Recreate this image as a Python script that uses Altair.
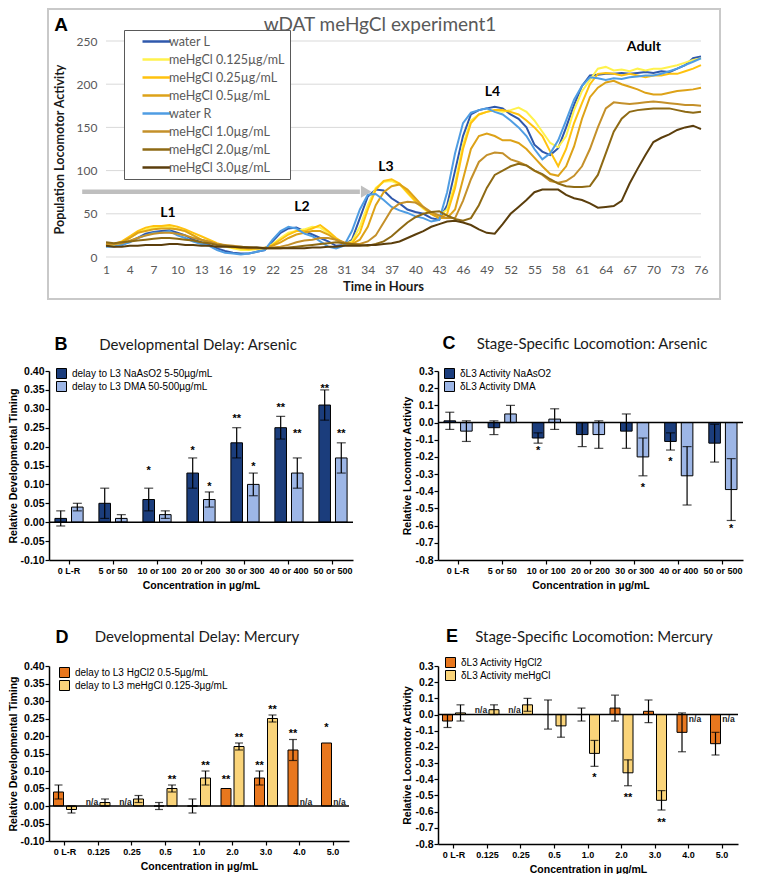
import altair as alt
import pandas as pd

# ---------------- Panel A data ----------------
hours = list(range(1, 77))
hour_ticks = list(range(1, 77, 3))
activity_ticks = [0, 50, 100, 150, 200, 250]

a_series = ["water L", "meHgCl 0.125µg/mL", "meHgCl 0.25µg/mL", "meHgCl 0.5µg/mL",
            "water R", "meHgCl 1.0µg/mL", "meHgCl 2.0µg/mL", "meHgCl 3.0µg/mL"]
a_colors = ["#2F58AC", "#FFF24D", "#FFC20E", "#DDA218", "#4F9DE3", "#C4902A", "#8E6A14", "#5B3E0C"]

water_L = [14, 13, 14, 18, 22, 27, 29, 30, 31, 28,
           25, 20, 17, 14, 10, 7, 5, 4, 4, 6,
           8, 18, 28, 33, 34, 30, 26, 22, 18, 13,
           14, 20, 45, 70, 78, 77, 68, 62, 55, 52,
           50, 45, 43, 60, 100, 140, 165, 170, 172, 174,
           172, 165, 160, 150, 130, 122, 118, 126, 150, 176,
           198, 210, 211, 212, 212, 213, 212, 213, 214, 213,
           215, 214, 218, 222, 230, 232]
me_0125 = [14, 14, 16, 22, 28, 32, 34, 35, 35, 32,
           30, 25, 20, 17, 15, 12, 10, 8, 8, 9,
           10, 15, 22, 28, 30, 32, 35, 34, 28, 20,
           15, 18, 35, 60, 80, 87, 88, 84, 74, 64,
           56, 50, 48, 55, 85, 130, 158, 165, 168, 170,
           168, 170, 173, 168, 158, 145, 132, 127, 140, 170,
           192, 205, 218, 220, 216, 217, 215, 218, 216, 218,
           218, 220, 222, 225, 228, 230]
me_025 = [14, 15, 18, 24, 30, 34, 36, 36, 37, 35,
          32, 28, 24, 20, 16, 13, 11, 10, 9, 10,
          10, 14, 20, 26, 30, 30, 33, 37, 30, 22,
          16, 16, 28, 55, 78, 88, 90, 85, 75, 65,
          57, 50, 45, 50, 80, 125, 155, 165, 168, 170,
          170, 168, 165, 158, 150, 140, 122, 105, 125, 155,
          178, 200, 212, 213, 212, 210, 212, 210, 208, 210,
          210, 212, 212, 215, 218, 222]
me_05 = [14, 15, 17, 22, 28, 30, 32, 33, 33, 32,
         30, 25, 20, 17, 15, 13, 12, 11, 10, 10,
         11, 13, 17, 22, 26, 28, 30, 30, 26, 20,
         15, 15, 20, 35, 60, 75, 82, 84, 78, 68,
         58, 50, 45, 45, 55, 90, 125, 140, 143, 140,
         135, 135, 132, 125, 115, 105, 96, 94, 105, 128,
         160, 185, 196, 202, 204, 200, 197, 194, 190, 188,
         188, 190, 192, 193, 194, 196]
water_R = [12, 12, 14, 17, 22, 25, 28, 28, 30, 25,
           22, 18, 15, 13, 8, 5, 4, 3, 4, 6,
           8, 20, 30, 35, 33, 27, 24, 18, 12, 10,
           13, 30, 55, 72, 73, 66, 58, 54, 51, 47,
           45, 41, 43, 75, 120, 155, 167, 170, 172, 168,
           165, 158, 150, 140, 125, 113, 120, 135, 158, 182,
           198, 208, 207, 205, 207, 206, 208, 209, 210, 210,
           212, 215, 218, 222, 226, 230]
me_10 = [16, 15, 16, 19, 22, 25, 27, 28, 28, 27,
         25, 22, 20, 18, 15, 14, 13, 12, 11, 10,
         10, 11, 12, 14, 17, 19, 20, 22, 22, 20,
         17, 15, 15, 18, 25, 40, 55, 62, 64, 63,
         58, 52, 48, 45, 45, 65, 90, 110, 118, 121,
         120, 113, 110, 106, 100, 95, 88, 86, 88, 94,
         105, 125, 150, 172, 179, 178, 177, 178, 179, 180,
         179, 178, 177, 176, 176, 175]
me_20 = [17, 16, 17, 18, 19, 20, 21, 22, 22, 21,
         20, 19, 17, 16, 14, 13, 12, 12, 11, 11,
         10, 10, 10, 11, 12, 13, 14, 15, 16, 17,
         16, 15, 14, 13, 15, 18, 24, 32, 40, 46,
         50, 52, 53, 48, 44, 42, 45, 60, 80, 95,
         100, 105, 108, 106, 100, 96, 90, 85, 82, 81,
         81, 82, 95, 120, 145, 160, 168, 170, 171, 172,
         172, 172, 170, 168, 167, 168]
me_30 = [13, 12, 12, 13, 13, 14, 14, 14, 15, 15,
         14, 14, 13, 13, 12, 12, 12, 11, 11, 11,
         10, 10, 10, 10, 10, 10, 11, 11, 12, 12,
         13, 13, 13, 14, 14, 15, 16, 18, 22, 26,
         30, 35, 38, 41, 42, 40, 37, 32, 28, 27,
         38, 50, 58, 66, 75, 78, 78, 78, 72, 68,
         66, 62, 57, 58, 59, 65, 85, 102, 118, 133,
         138, 142, 147, 150, 152, 148]
a_values = [water_L, me_0125, me_025, me_05, water_R, me_10, me_20, me_30]

stage_text = ["L1", "L2", "L3", "L4", "Adult"]
stage_hour = [8.8, 25.7, 36.3, 49.7, 68.8]
stage_level = [51, 58, 104, 191, 243]

arrow_hours = [-2.0, 33.0]
arrow_head_hour = 33.8
arrow_level = 75.6

# ---------------- Panels B-E data ----------------
as_cats = ["0 L-R", "5 or 50", "10 or 100", "20 or 200", "30 or 300", "40 or 400", "50 or 500"]
hg_cats = ["0 L-R", "0.125", "0.25", "0.5", "1.0", "2.0", "3.0", "4.0", "5.0"]

B_series = ["delay to L3 NaAsO2 5-50µg/mL", "delay to L3 DMA 50-500µg/mL"]
B_val = [[0.01, 0.05, 0.06, 0.13, 0.21, 0.25, 0.31], [0.04, 0.01, 0.02, 0.06, 0.10, 0.13, 0.17]]
B_lo = [[-0.01, 0.01, 0.03, 0.09, 0.17, 0.22, 0.27], [0.03, 0.00, 0.01, 0.04, 0.07, 0.09, 0.13]]
B_hi = [[0.03, 0.09, 0.09, 0.17, 0.25, 0.28, 0.35], [0.05, 0.02, 0.03, 0.08, 0.13, 0.17, 0.21]]
B_star = [["", "", "*", "*", "**", "**", "**"], ["", "", "", "*", "*", "**", "**"]]
B_star_y = [[None, None, 0.144, 0.196, 0.28, 0.31, 0.36], [None, None, None, 0.10, 0.154, 0.242, 0.242]]

C_series = ["δL3 Activity NaAsO2", "δL3 Activity DMA"]
C_val = [[0.01, -0.03, -0.09, -0.07, -0.05, -0.11, -0.12], [-0.05, 0.05, 0.02, -0.07, -0.20, -0.31, -0.39]]
C_lo = [[-0.04, -0.07, -0.12, -0.14, -0.15, -0.16, -0.23], [-0.11, 0.00, -0.04, -0.15, -0.31, -0.48, -0.57]]
C_hi = [[0.06, 0.01, -0.06, 0.00, 0.05, -0.06, -0.01], [0.01, 0.10, 0.08, 0.01, -0.09, -0.14, -0.21]]
C_star = [["", "", "*", "", "", "*", ""], ["", "", "", "", "*", "", "*"]]
C_star_y = [[None, None, -0.149, None, None, -0.21, None], [None, None, None, None, -0.362, None, -0.604]]

D_series = ["delay to L3 HgCl2 0.5-5µg/mL", "delay to L3 meHgCl 0.125-3µg/mL"]
D_val = [[0.04, None, None, 0.0, 0.0, 0.05, 0.08, 0.16, 0.18],
         [-0.01, 0.01, 0.02, 0.05, 0.08, 0.17, 0.25, None, None]]
D_lo = [[0.02, None, None, -0.01, -0.02, None, 0.06, 0.13, None],
        [-0.02, 0.00, 0.01, 0.04, 0.06, 0.16, 0.24, None, None]]
D_hi = [[0.06, None, None, 0.01, 0.02, None, 0.10, 0.19, None],
        [0.00, 0.02, 0.03, 0.06, 0.10, 0.18, 0.26, None, None]]
D_star = [["", "", "", "", "", "**", "**", "**", "*"], ["", "", "", "**", "**", "**", "**", "", ""]]
D_star_y = [[None, None, None, None, None, 0.083, 0.124, 0.213, 0.232],
            [None, None, None, 0.083, 0.124, 0.203, 0.284, None, None]]
D_na_y = [0.012, 0.012]

E_series = ["δL3 Activity HgCl2", "δL3 Activity meHgCl"]
E_val = [[-0.04, None, None, 0.0, 0.0, 0.04, 0.02, -0.11, -0.18],
         [0.01, 0.03, 0.06, -0.07, -0.24, -0.36, -0.53, None, None]]
E_lo = [[-0.08, None, None, -0.09, -0.04, -0.04, -0.05, -0.23, -0.25],
        [-0.04, 0.00, 0.02, -0.14, -0.32, -0.44, -0.59, None, None]]
E_hi = [[0.00, None, None, 0.09, 0.04, 0.12, 0.09, 0.01, -0.11],
        [0.06, 0.06, 0.10, 0.00, -0.16, -0.28, -0.47, None, None]]
E_star = [["", "", "", "", "", "", "", "", ""], ["", "", "", "", "*", "**", "**", "", ""]]
E_star_y = [[None] * 9, [None, None, None, None, -0.372, -0.495, -0.654, None, None]]
E_na_y = [0.031, -0.027]

delay_ticks = [-0.10, -0.05, 0.0, 0.05, 0.10, 0.15, 0.20, 0.25, 0.30, 0.35, 0.40]
loco_ticks = [-0.8, -0.7, -0.6, -0.5, -0.4, -0.3, -0.2, -0.1, 0.0, 0.1, 0.2, 0.3]

arsenic_colors = ["#1B3D7C", "#9DB6E6"]
mercury_colors = ["#E8771E", "#FAD47A"]

AX = "Liberation Sans"
one = pd.DataFrame({"k": [0]})

# ---------------- Panel A ----------------
dfA = pd.DataFrame({
    "hour": hours * len(a_series),
    "activity": [v for vals in a_values for v in vals],
    "series": [s for s in a_series for _ in hours],
})
xA = alt.X("hour:Q", scale=alt.Scale(domain=[1, 76], range=[57, 652], nice=False, zero=False),
           axis=alt.Axis(values=hour_ticks, format="d", title="Time in Hours", grid=False, ticks=False,
                         domain=False, labelFont="Lato", labelFontSize=12, labelColor="#595959",
                         labelPadding=7, labelFlush=False, labelOverlap=False,
                         titleFont="Lato", titleFontSize=13, titleFontWeight="bold",
                         titleColor="#1a1a1a", titlePadding=5, titleX=334))
yA = alt.Y("activity:Q", scale=alt.Scale(domain=[0, 250], nice=False),
           axis=alt.Axis(values=activity_ticks, title="Population Locomotor Activity", grid=False,
                         ticks=False, domain=False, offset=-57, labelFont="Lato", labelOverlap=False,
                         labelFontSize=12, labelColor="#595959", labelPadding=9, labelFlush=False,
                         titleFont="Lato", titleFontSize=12.5, titleFontWeight="bold",
                         titleColor="#1a1a1a", titlePadding=10))

boxA = alt.Chart(one).mark_rect(fill="white", fillOpacity=0, stroke="#C9C9C9", strokeWidth=2).encode(
    x=alt.value(-1), x2=alt.value(671), y=alt.value(-32), y2=alt.value(258))
grid_df = pd.DataFrame({"hour": [1] * len(activity_ticks), "hour2": [76] * len(activity_ticks),
                        "activity": activity_ticks})
gridA = alt.Chart(grid_df).mark_rule(color="#D9D9D9", strokeWidth=1).encode(x=xA, x2="hour2:Q", y=yA)
linesA = alt.Chart(dfA).mark_line(strokeWidth=2).encode(
    x=xA, y=yA,
    color=alt.Color("series:N", sort=a_series, scale=alt.Scale(domain=a_series, range=a_colors),
                    legend=alt.Legend(title=None, orient="none", legendX=75, legendY=-11,
                                      symbolType="M-2.8,0H2.8", symbolSize=100, symbolStrokeWidth=2.5,
                                      labelFont="Lato", labelFontSize=12.5, labelColor="#595959",
                                      strokeColor="#595959", fillColor="white", padding=5,
                                      rowPadding=5, symbolOffset=21, labelOffset=6)))
arrow_df = pd.DataFrame({"hour": [arrow_hours[0]], "hour2": [arrow_hours[1]], "activity": [arrow_level]})
arrowA = alt.Chart(arrow_df).mark_rule(color="#BFBFBF", strokeWidth=4.5).encode(x=xA, x2="hour2:Q", y=yA)
head_df = pd.DataFrame({"hour": [arrow_head_hour], "activity": [arrow_level]})
headA = alt.Chart(head_df).mark_point(shape="triangle-right", filled=True, color="#BFBFBF",
                                      opacity=1, size=150).encode(x=xA, y=yA)
stage_df = pd.DataFrame({"hour": stage_hour, "activity": stage_level, "label": stage_text})
stageA = alt.Chart(stage_df).mark_text(font="Lato", fontSize=14, fontWeight="bold", color="black").encode(
    x=xA, y=yA, text="label:N")
titleA = alt.Chart(one).mark_text(font="Lato", fontSize=19, color="#595959").encode(
    x=alt.value(331), y=alt.value(-16), text=alt.value("wDAT meHgCl experiment1"))
letterA = alt.Chart(one).mark_text(font=AX, fontSize=19, fontWeight="bold", color="black").encode(
    x=alt.value(12), y=alt.value(-16), text=alt.value("A"))

panelA = alt.layer(boxA, gridA, linesA, arrowA, headA, stageA, titleA, letterA).properties(
    width=304, height=216)

spacer = alt.Chart(one).mark_point(opacity=0).encode(x=alt.value(0), y=alt.value(0)).properties(
    width=1, height=224)


# ---------------- bar panels ----------------
def bar_df(cats, series, vals, los, his, stars, star_ys, na_ys):
    rows = []
    for si, s in enumerate(series):
        for ci, c in enumerate(cats):
            v = vals[si][ci]
            rows.append({"cat": c, "series": s, "value": v, "lo": los[si][ci], "hi": his[si][ci],
                         "star": stars[si][ci], "star_y": star_ys[si][ci],
                         "na": "n/a" if v is None else "", "na_y": na_ys[si]})
    return pd.DataFrame(rows)


def bar_panel(df, cats, series, colors, ydom, yticks, yfmt, ytitle, width, height,
              pin, pout, bar_w, shift, capw, leg_x, leg_y, letter, letter_xy, title, title_xy):
    xaxis = alt.Axis(title="Concentration in µg/mL", labelAngle=0, labelFont=AX, labelFontWeight="bold",
                     labelFontSize=9, labelColor="black", labelPadding=2, tickColor="black", tickSize=4,
                     tickWidth=1.2, domainColor="black", domainWidth=1.5, titleFont=AX, titleFontSize=10.5,
                     titleFontWeight="bold", titleColor="black", titlePadding=5, grid=False,
                     labelOverlap=False)
    xscale = alt.Scale(type="band", domain=cats, paddingInner=pin, paddingOuter=pout)
    yaxis = alt.Axis(values=yticks, format=yfmt, labelExpr="replace(datum.label, '\u2212', '-')",
                     title=ytitle, labelFont=AX, labelFontWeight="bold", labelFontSize=10.5,
                     labelColor="black", labelPadding=1, labelFlush=False, labelOverlap=False,
                     tickColor="black", tickSize=4,
                     tickWidth=1.2, domainColor="black", domainWidth=1.5, grid=False, titleFont=AX,
                     titleFontSize=10.5, titleFontWeight="bold", titleColor="black", titlePadding=2)
    yscale = alt.Scale(domain=ydom, nice=False, zero=False)
    X = alt.X("cat:N", sort=cats, scale=xscale, axis=xaxis)

    def Y(field):
        return alt.Y(field, type="quantitative", scale=yscale, axis=yaxis)

    color = alt.Color("series:N", sort=series, scale=alt.Scale(domain=series, range=colors),
                      legend=alt.Legend(title=None, orient="none", legendX=leg_x, legendY=leg_y,
                                        symbolType="square", symbolSize=100, symbolStrokeColor="black",
                                        symbolStrokeWidth=1, labelFont=AX, labelFontSize=10,
                                        labelLimit=300, labelColor="black", rowPadding=-3, padding=0,
                                        labelOffset=5))
    layers = []
    offsets = [-shift, shift]
    for s, off in zip(series, offsets):
        base = alt.Chart(df).transform_filter(alt.datum.series == s)
        layers.append(base.transform_filter("isValid(datum.value)").mark_bar(
            stroke="black", strokeWidth=1, width=bar_w, xOffset=off).encode(x=X, y=Y("value"), color=color))
    zero_df = pd.DataFrame({"value": [0.0]})
    layers.append(alt.Chart(zero_df).mark_rule(color="black", strokeWidth=1.5).encode(
        y=Y("value"), x=alt.value(0), x2=alt.value(width)))
    for s, off in zip(series, offsets):
        base = alt.Chart(df).transform_filter(alt.datum.series == s)
        eb = base.transform_filter("isValid(datum.lo)")
        layers.append(eb.mark_rule(color="black", strokeWidth=1.2, xOffset=off).encode(
            x=X, y=Y("lo"), y2="hi:Q"))
        layers.append(eb.mark_tick(color="black", thickness=1.2, size=capw, orient="horizontal",
                                   xOffset=off).encode(x=X, y=Y("lo")))
        layers.append(eb.mark_tick(color="black", thickness=1.2, size=capw, orient="horizontal",
                                   xOffset=off).encode(x=X, y=Y("hi")))
        layers.append(base.transform_filter("datum.star != ''").mark_text(
            font=AX, fontSize=11, fontWeight="bold", color="black", dy=3, xOffset=off).encode(
            x=X, y=Y("star_y"), text="star:N"))
        layers.append(base.transform_filter("datum.na != ''").mark_text(
            font=AX, fontSize=8.5, fontWeight="bold", color="#222222", xOffset=off).encode(
            x=X, y=Y("na_y"), text="na:N"))
    layers.append(alt.Chart(one).mark_text(font=AX, fontSize=18, fontWeight="bold", color="black").encode(
        x=alt.value(letter_xy[0]), y=alt.value(letter_xy[1]), text=alt.value(letter)))
    layers.append(alt.Chart(one).mark_text(font="Lato", fontSize=15, color="#1a1a1a").encode(
        x=alt.value(title_xy[0]), y=alt.value(title_xy[1]), text=alt.value(title)))
    return alt.layer(*layers).properties(width=width, height=height)


dfB = bar_df(as_cats, B_series, B_val, B_lo, B_hi, B_star, B_star_y, [0, 0])
dfC = bar_df(as_cats, C_series, C_val, C_lo, C_hi, C_star, C_star_y, [0, 0])
dfD = bar_df(hg_cats, D_series, D_val, D_lo, D_hi, D_star, D_star_y, D_na_y)
dfE = bar_df(hg_cats, E_series, E_val, E_lo, E_hi, E_star, E_star_y, E_na_y)

panelB = bar_panel(dfB, as_cats, B_series, arsenic_colors, [-0.10, 0.40], delay_ticks, ".2f",
                   "Relative Developmental Timing", 304, 189, 0.36, 0.135, 11.6, 8.3, 9,
                   7, -3, "B", (12, -26), "Developmental Delay: Arsenic", (149, -26))
panelC = bar_panel(dfC, as_cats, C_series, arsenic_colors, [-0.8, 0.3], loco_ticks, ".1f",
                   "Relative Locomotor Activity", 305, 189, 0.36, 0.135, 11.6, 8.3, 9,
                   6, -3, "C", (11, -27), "Stage-Specific Locomotion: Arsenic", (154, -27))
panelD = bar_panel(dfD, hg_cats, D_series, mercury_colors, [-0.10, 0.40], delay_ticks, ".2f",
                   "Relative Developmental Timing", 300, 175, 0.313, 0.134, 10, 6.5, 8,
                   10, 1, "D", (13, -28), "Developmental Delay: Mercury", (148, -29))
panelE = bar_panel(dfE, hg_cats, E_series, mercury_colors, [-0.8, 0.3], loco_ticks, ".1f",
                   "Relative Locomotor Activity", 300, 178, 0.313, 0.134, 10, 6.5, 8,
                   7, -9, "E", (14, -29), "Stage-Specific Locomotion: Mercury", (156, -29))

chart = alt.concat(panelA, spacer, panelB, panelC, panelD, panelE, columns=2,
                   spacing={"row": 106, "column": 85}, align="each",
                   bounds="flush").resolve_scale(color="independent").properties(
    padding=0, background="white").configure_view(stroke=None).configure_axis(labelOverlap=False)

chart.save("out.html", embed_options={"renderer": "svg", "actions": False})
